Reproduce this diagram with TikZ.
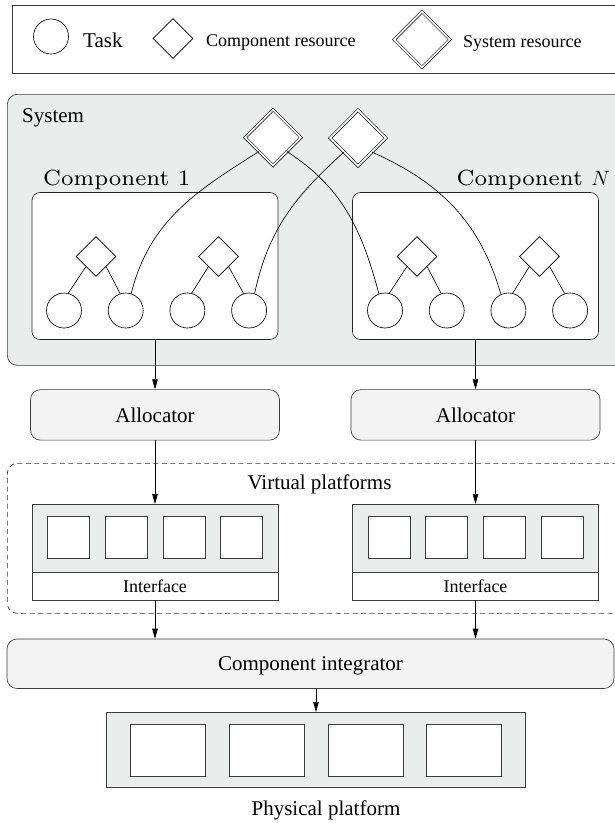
\documentclass[tikz,border=0pt]{standalone}
\usepackage{fontspec}
\setmainfont{Liberation Serif}
\newfontfamily\cmfont{lmroman7-regular}[Extension=.otf]
\usepackage{tikz}
\usetikzlibrary{arrows.meta, shapes.geometric, positioning}
\definecolor{grisfondo}{HTML}{EBECEC}
\definecolor{grisclaro}{HTML}{F3F3F3}
\definecolor{grisborde}{HTML}{3C3C3C}

\begin{document}
\begin{tikzpicture}[
  x=1pt, y=1pt,
  node distance=49.5pt,
  big/.style={font=\fontsize{21}{25}\selectfont},
  small/.style={font=\fontsize{18}{21}\selectfont},
  lbl/.style={inner sep=0pt},
  cmlbl/.style={inner sep=0pt, font=\cmfont\fontsize{22}{26}\selectfont},
  frame/.style={rectangle, draw=grisborde, line width=0.7pt, anchor=north west},
  task/.style={circle, draw, fill=white, minimum size=35pt, inner sep=0pt, line width=0.65pt},
  cres/.style={diamond, draw, fill=white, minimum size=40pt, inner sep=0pt, line width=0.65pt},
  sres/.style={diamond, draw, double, double distance=1.8pt, fill=white,
    minimum size=56pt, inner sep=0pt, line width=0.6pt},
  comp/.style={rectangle, rounded corners=8pt, draw=black!85, fill=white,
    line width=0.65pt, minimum width=246pt, minimum height=147pt},
  alloc/.style={rectangle, rounded corners=10pt, draw=grisborde, fill=grisclaro,
    line width=0.65pt, minimum width=249pt, minimum height=50.5pt, text depth=0pt, big},
  vplat/.style={rectangle, draw=grisborde, fill=grisfondo, line width=0.65pt,
    minimum width=246pt, minimum height=68.5pt, outer sep=0pt},
  iface/.style={rectangle, draw=grisborde, fill=white, line width=0.65pt,
    minimum width=246pt, minimum height=27.5pt, outer sep=0pt, small},
  slot/.style={rectangle, draw=grisborde, fill=white, line width=0.65pt,
    minimum width=42pt, minimum height=42pt},
  pslot/.style={slot, minimum width=75pt, minimum height=52pt},
  arr/.style={-{Stealth[length=10pt, width=5.5pt, inset=0pt]}, line width=0.65pt}
]
  \useasboundingbox (0,0) rectangle (615,-823);

  \node[frame, minimum width=613pt, minimum height=68.5pt] (leg) at (12,-4.5) {};
  \node[task] (legtask) at (51,-36.5) {};
  \node[lbl, big, anchor=base west] (legtasktxt) at (83,-47.5) {Task};
  \node[cres] (legcres) at (173,-38.5) {};
  \node[lbl, small, anchor=base west] (legcrestxt) at (206,-46.7) {Component resource};
  \node[sres] (legsres) at (422,-39.5) {};
  \node[lbl, small, anchor=base west] (legsrestxt) at (463,-47) {System resource};

  \node[frame, rounded corners=10pt, fill=grisfondo, minimum width=620pt, minimum height=271pt] (sys) at (7,-94) {};
  \node[lbl, big, anchor=base west] (syslbl) at (22,-122) {System};
  \node[sres] (sres1) at (273,-137.5) {};
  \node[sres] (sres2) at (358,-138) {};

  \node[comp] (comp1) at (155,-266) {};
  \node[comp] (compN) at (475.5,-266) {};
  \node[cmlbl, anchor=base west] (comp1lbl) at (43,-185) {Component 1};
  \node[cmlbl, anchor=base east] (compNlbl) at (610,-185) {Component $N$};

  \foreach \k/\x in {1/32, N/353} {
    \foreach \i in {1,...,4}
      \node[task] (t\k\i) at ({\x+32+61.7*(\i-1)}, -310.5) {};
    \node[cres] (r\k1) at ({\x+64}, -256.5) {};
    \node[cres] (r\k2) at ({\x+186.5}, -256.5) {};
    \draw[line width=0.65pt] (r\k1.south west) -- (t\k1.76);
    \draw[line width=0.65pt] (r\k1.south east) -- (t\k2.108);
    \draw[line width=0.65pt] (r\k2.south west) -- (t\k3.76);
    \draw[line width=0.65pt] (r\k2.south east) -- (t\k4.108);
  }
  \draw[line width=0.65pt] (sres1.south west) to[out=-148, in=76] (t12.72);
  \draw[line width=0.65pt] (sres2.south west) to[out=-138, in=78] (t14.72);
  \draw[line width=0.65pt] (sres1.south east) to[out=-33, in=105] (tN1.110);
  \draw[line width=0.65pt] (sres2.south east) to[out=-24, in=106] (tN3.115);

  \node[alloc, below=of comp1] (alloc1) {Allocator};
  \node[alloc, below=of compN] (alloc2) {Allocator};

  \node[frame, draw=black!80, dashed, dash pattern=on 5pt off 3.5pt, rounded corners=10pt,
    minimum width=620pt, minimum height=150pt] (virt) at (7,-463) {};
  \node[lbl, big, anchor=base] (virtlbl) at (319.5,-489) {Virtual platforms};

  \node[vplat, below=63.5pt of alloc1] (vp1) {};
  \node[vplat, below=63.5pt of alloc2] (vp2) {};
  \node[iface, below=0pt of vp1] (if1) {Interface};
  \node[iface, below=0pt of vp2] (if2) {Interface};
  \foreach \i in {1,...,4} {
    \node[slot] (s1\i) at ({155-86.5+57.7*(\i-1)}, -537) {};
    \node[slot] (s2\i) at ({475.5-86.5+57.7*(\i-1)}, -537) {};
  }

  \node[alloc, minimum width=607pt, minimum height=49.5pt] (integ) at (310.5,-663.75) {Component integrator};

  \node[vplat, minimum width=419pt, minimum height=75pt] (phys) at (316,-749.5) {};
  \foreach \i in {1,...,4}
    \node[pslot] (p\i) at ({316-148+98.7*(\i-1)}, -750) {};
  \node[lbl, big, anchor=base] (physlbl) at (326,-815) {Physical platform};

  \foreach \a/\b in {comp1/alloc1, alloc1/vp1, compN/alloc2, alloc2/vp2}
    \draw[arr] (\a) -- (\b);
  \draw[arr] (if1.south) -- (if1.south |- integ.north);
  \draw[arr] (if2.south) -- (if2.south |- integ.north);
  \draw[arr] (phys.north |- integ.south) -- (phys.north);
\end{tikzpicture}
\end{document}
